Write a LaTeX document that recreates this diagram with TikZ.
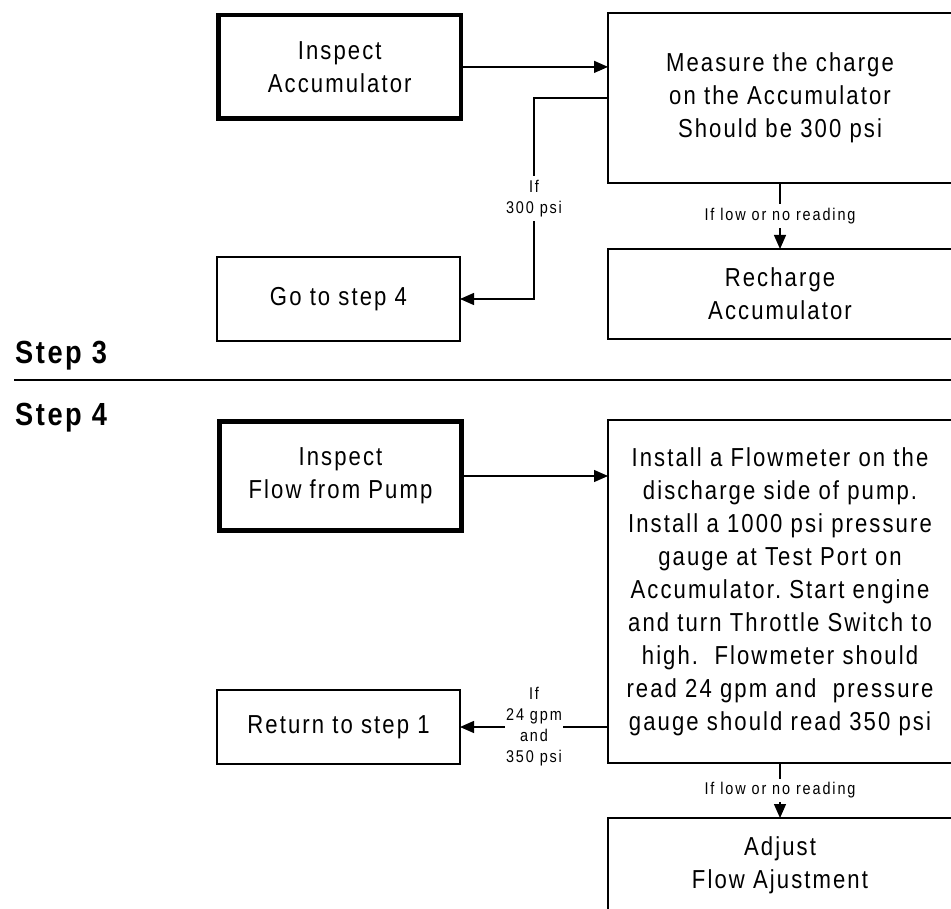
\documentclass[tikz,border=0pt]{standalone}
\usepackage{fontspec}
\setmainfont{Liberation Sans}[FakeStretch=0.85,LetterSpace=8]
\usetikzlibrary{arrows.meta}
\newcommand{\boxtext}{\fontsize{26}{33}\selectfont}
\newcommand{\iftext}{\fontsize{17}{21}\selectfont\addfontfeatures{LetterSpace=11}}
\newcommand{\steptext}{\fontsize{32}{38}\selectfont\bfseries}
\frenchspacing

\begin{document}
\begin{tikzpicture}[line join=miter,>={Triangle[length=14pt,width=12pt]},x=1pt,y=-1pt,
		box/.style={draw,line width=1.3pt,inner sep=0pt,outer sep=0pt,align=center,font=\boxtext},
		heavybox/.style={box,line width=4.8pt},
		link/.style={line width=1.3pt},
		iflabel/.style={fill=white,inner xsep=1.5pt,inner ysep=4pt,align=center,font=\iftext},
		steplabel/.style={anchor=base west,inner sep=0pt,font=\steptext}]
			\clip(0,0) rectangle (951,909);
			\node[heavybox,minimum width=242.6pt,minimum height=103.7pt] (inspacc) at (339.7,66.9) {Inspect\\Accumulator};
			\node[box,minimum width=344pt,minimum height=170pt] (measure) at (780,98) {Measure the charge\\on the Accumulator\\Should be 300 psi};
			\node[box,minimum width=243pt,minimum height=84pt] (gostep4) at (338.5,299) {Go to step 4};
			\node[box,minimum width=344pt,minimum height=90pt] (recharge) at (780,294) {Recharge\\Accumulator};
			\node[steplabel] (step3) at (15,363) {Step 3};
			\draw [link] (14,380)-- (951,380);
			\node[steplabel] (step4) at (15,425) {Step 4};
			\node[heavybox,minimum width=242.2pt,minimum height=109.2pt] (inspump) at (340.5,476) {Inspect\\Flow from Pump};
			\node[box,minimum width=344pt,minimum height=343pt] (install) at (780,591.5) {Install a Flowmeter on the\\discharge side of pump.\\Install a 1000 psi pressure\\gauge at Test Port on\\Accumulator. Start engine\\and turn Throttle Switch to\\high.\ \ Flowmeter should\\read 24 gpm and\ \ pressure\\gauge should read 350 psi};
			\node[box,minimum width=243pt,minimum height=74pt] (return1) at (338.5,727) {Return to step 1};
			\node[box,minimum width=344pt,minimum height=94pt] (adjust) at (780,865) {Adjust\\Flow Ajustment};
			\draw [link,->] (inspacc.east)-- (inspacc.east -| measure.west);
			\draw [link,->] (measure.west)-- ++(-74,0) |- (gostep4.east) node[iflabel,pos=0.25] {If\\300 psi};
			\draw [link,->] (measure.south)-- (recharge.north) node[iflabel,midway] {If low or no reading};
			\draw [link,->] (inspump.east)-- (inspump.east -| install.west);
			\draw [link,->] (install.west |- return1.east)-- (return1.east) node[iflabel,midway] {If\\24 gpm\\and\\350 psi};
			\draw [link,->] (install.south)-- (adjust.north) node[iflabel,midway] {If low or no reading};
		\end{tikzpicture}
\end{document}
